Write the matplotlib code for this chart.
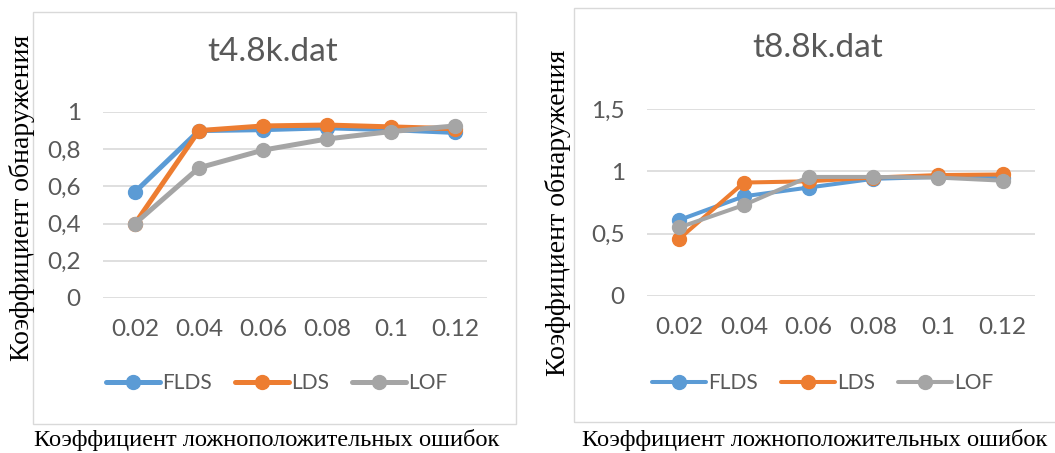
import matplotlib
matplotlib.use("Agg")
import matplotlib.pyplot as plt
from matplotlib.patches import Rectangle

fpr = ["0.02", "0.04", "0.06", "0.08", "0.1", "0.12"]
series_names = ["FLDS", "LDS", "LOF"]

# t4.8k.dat
t48_flds = [0.57, 0.90, 0.905, 0.915, 0.905, 0.89]
t48_lds = [0.40, 0.90, 0.925, 0.93, 0.92, 0.91]
t48_lof = [0.40, 0.70, 0.795, 0.855, 0.895, 0.925]
t48_yticks = [0, 0.2, 0.4, 0.6, 0.8, 1.0]

# t8.8k.dat
t88_flds = [0.61, 0.80, 0.87, 0.94, 0.955, 0.945]
t88_lds = [0.46, 0.91, 0.92, 0.95, 0.97, 0.975]
t88_lof = [0.55, 0.73, 0.955, 0.955, 0.95, 0.925]
t88_yticks = [0, 0.5, 1.0, 1.5]

colors = ["#5B9BD5", "#ED7D31", "#A5A5A5"]
W, H = 1055, 453
sans = "Lato"
serif = "Liberation Serif"
tick_color = "#595959"


def px_axes(fig, left, top, right, bottom):
    return fig.add_axes([left / W, 1 - bottom / H, (right - left) / W, (bottom - top) / H])


def fmt(v):
    s = f"{v:g}"
    return s.replace(".", ",")


def draw_chart(fig, ax, title, data, yticks, lw, box, title_xy, legend_xy, ylabel_xy, xlabel_x, xlabel_ha):
    fig.patches.append(Rectangle((box[0] / W, 1 - box[3] / H), (box[2] - box[0]) / W,
                                 (box[3] - box[1]) / H, transform=fig.transFigure,
                                 fill=False, edgecolor="#D9D9D9", linewidth=1.0))
    x = range(len(fpr))
    for name, vals, c in zip(series_names, data, colors):
        ax.plot(x, vals, color=c, linewidth=lw, marker="o", markersize=10,
                solid_capstyle="round", label=name)
    ax.set_xlim(-0.5, len(fpr) - 0.5)
    ax.set_ylim(yticks[0], yticks[-1])
    ax.set_yticks(yticks)
    ax.set_yticklabels([fmt(v) for v in yticks])
    ax.set_xticks(list(x))
    ax.set_xticklabels(fpr)
    ax.grid(axis="y", color="#D9D9D9", linewidth=1.2)
    ax.set_axisbelow(True)
    for s in ax.spines.values():
        s.set_visible(False)
    ax.tick_params(length=0, labelsize=17.5, labelcolor=tick_color)
    ax.tick_params(axis="x", pad=15)
    ax.tick_params(axis="y", pad=16)
    for lbl in ax.get_xticklabels() + ax.get_yticklabels():
        lbl.set_fontfamily(sans)
    ax.patch.set_alpha(0)
    for ln in ax.lines:
        ln.set_clip_on(False)

    fig.text(title_xy[0] / W, 1 - title_xy[1] / H, title, ha="center", va="center",
             fontsize=24, color=tick_color, family=sans)
    ax.legend(loc="center", bbox_to_anchor=(legend_xy[0] / W, 1 - legend_xy[1] / H),
              bbox_transform=fig.transFigure, ncol=3, frameon=False,
              prop={"family": sans, "size": 15}, labelcolor=tick_color,
              handlelength=2.6, handletextpad=0.1, columnspacing=1.1)
    fig.text(ylabel_xy[0] / W, 1 - ylabel_xy[1] / H, "Коэффициент обнаружения", rotation=90,
             ha="center", va="center", fontsize=20, family=serif, color="black")
    fig.text(xlabel_x / W, 1 - 440 / H, "Коэффициент ложноположительных ошибок",
             ha=xlabel_ha, va="center", fontsize=17.6, family=serif, color="black")


fig = plt.figure(figsize=(W / 100, H / 100), dpi=100)
fig.patch.set_facecolor("white")

ax1 = px_axes(fig, 103, 112, 487, 298)
draw_chart(fig, ax1, "t4.8k.dat", [t48_flds, t48_lds, t48_lof], t48_yticks, 3.6,
           (33, 12, 516, 424), (273, 52), (277, 383), (22, 198), 267, "center")

ax2 = px_axes(fig, 647, 109, 1035, 296)
draw_chart(fig, ax2, "t8.8k.dat", [t88_flds, t88_lds, t88_lof], t88_yticks, 2.9,
           (574, 8, 1060, 422), (818, 48), (823, 383), (558, 213), 582, "left")

fig.savefig("out.png", dpi=100)
